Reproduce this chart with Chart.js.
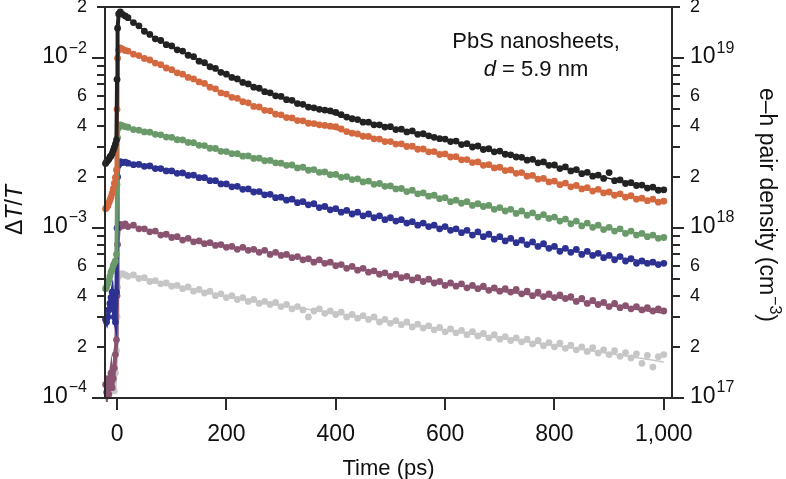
<!DOCTYPE html>
<html>
<head>
<meta charset="utf-8">
<script src="https://cdn.jsdelivr.net/npm/chart.js@4.4.1/dist/chart.umd.min.js"></script>
<style>
  html, body { margin: 0; padding: 0; background: #fff; }
  canvas { display: block; }
</style>
</head>
<body>
<canvas id="chartDecay" width="786" height="479"></canvas>
<script>
// ΔT/T values are stored in units of 1e-4 (right axis: e-h density in units of 1e17 cm^-3, same scale)
const time = [
  -21, -19, -17, -15, -13, -11, -9, -7, -5, -3, -1,
  0, 1, 3,
  6, 10, 15,
  20, 30, 40, 50, 60, 70, 80, 90, 100, 110,
  120, 130, 140, 150, 160, 170, 180, 190, 200, 210,
  220, 230, 240, 250, 260, 270, 280, 290, 300, 310,
  320, 330, 340, 350, 360, 370, 380, 390, 400, 410,
  420, 430, 440, 450, 460, 470, 480, 490, 500, 510,
  520, 530, 540, 550, 560, 570, 580, 590, 600, 610,
  620, 630, 640, 650, 660, 670, 680, 690, 700, 710,
  720, 730, 740, 750, 760, 770, 780, 790, 800, 810,
  820, 830, 840, 850, 860, 870, 880, 890, 900, 910,
  920, 930, 940, 950, 960, 970, 980, 990, 1000
];

const blackData = [
  24, 24.6, 25, 25.4, 26.2, 26.6, 27.4, 28.6, 29.8, 31.2, 33,
  75, 150, 182,
  187, 181, 177,
  173, 162, 155, 144, 138, 130, 127, 120, 118, 112,
  110, 104, 102, 96, 94, 89, 87, 82.5, 80.5, 77,
  75.5, 72, 70.5, 67.5, 66.5, 63.5, 62.5, 60, 59.5, 57,
  56.5, 54, 53.5, 51.5, 51, 50, 49.5, 49, 48, 46.5,
  45, 44, 43.5, 42, 42, 40.5, 40.5, 39.3, 39.5, 38,
  38.2, 36.8, 37.3, 35.6, 35.9, 34.9, 34.2, 33.6, 33.4, 32.3,
  32.5, 31, 31.4, 30, 30.4, 29, 29.3, 28.1, 28.4, 27.2,
  27, 26.2, 26.1, 25.1, 25.4, 24.2, 24.5, 23.4, 23.5, 22.4,
  22.9, 21.7, 22.1, 20.9, 21.3, 20.2, 20.5, 19.6, 21.2, 19,
  19.2, 18.3, 18.5, 17.8, 17.9, 17.2, 17.4, 16.7, 16.8
];

const orangeData = [
  13, 13.2, 13.5, 14, 14.6, 15.2, 16, 17, 18.3, 19.8, 22,
  50, 100, 112,
  115, 113, 111,
  110, 105.5, 103.5, 99.5, 97.5, 93.5, 91.5, 87.5, 85.5, 82,
  80.5, 77, 75.5, 72.5, 71, 67.5, 66, 62.5, 61.5, 58.8,
  58, 55.4, 54.6, 52, 51.6, 49.3, 49, 46.8, 46.4, 44.7,
  44.5, 42.9, 42.8, 41.4, 41.2, 40.5, 40.2, 39.8, 39.5, 38.3,
  37, 36.2, 35.8, 34.7, 34.6, 33.5, 33.4, 32.3, 32.3, 31.2,
  31.3, 30.2, 30.3, 29.1, 29.2, 28.1, 28.2, 27.1, 27.3, 26.2,
  26.3, 25.2, 25.3, 24.3, 24.5, 23.4, 23.6, 22.6, 22.8, 21.8,
  22, 21, 21.2, 20.2, 20.4, 19.4, 19.6, 18.7, 18.9, 18,
  18.4, 17.5, 17.8, 17, 17.3, 16.5, 16.9, 16.1, 16.3, 15.6,
  15.9, 15.2, 15.5, 14.8, 15, 14.5, 14.8, 14.2, 14.4
];

const greenData = [
  4.4, 4.5, 4.7, 4.9, 5.2, 5.5, 5.7, 6.0, 6.2, 6.4, 7,
  18, 34, 39,
  40.5, 40, 39.5,
  39.2, 38, 37.7, 36.8, 36.7, 35.6, 35.4, 34.3, 34.2, 33.1,
  33, 31.9, 31.8, 30.7, 30.6, 29.5, 29.4, 28.3, 28.2, 27.4,
  27.4, 26.5, 26.6, 25.7, 25.8, 24.9, 25, 24.2, 24.1, 23.4,
  23.5, 22.6, 22.8, 21.9, 22.1, 21.3, 21.4, 20.6, 20.7, 19.9,
  20.1, 19.3, 19.5, 18.7, 18.9, 18.1, 18.3, 17.6, 17.7, 17,
  17.1, 16.4, 16.7, 15.9, 16.1, 15.4, 15.6, 14.9, 15.1, 14.3,
  14.6, 14, 14.3, 13.6, 13.9, 13.4, 13.6, 12.9, 13.2, 12.6,
  12.9, 12.2, 12.6, 11.9, 12.3, 11.6, 12, 11.4, 11.6, 11,
  11.3, 10.6, 11, 10.3, 10.7, 10.1, 10.4, 9.8, 10.1, 9.6,
  9.9, 9.3, 9.6, 9.1, 9.3, 8.9, 9.1, 8.7, 8.8
];

const blueData = [
  2.9, 2.8, 3.0, 3.3, 3.6, 3.9, 4.2, 3.5, 3.0, 2.8, 4.2,
  10, 20, 23.5,
  24.6, 24.3, 24.4,
  24.1, 23.6, 23.7, 23.1, 23.2, 22.4, 22.4, 21.7, 21.7, 21,
  21.1, 20.4, 20.5, 19.8, 19.8, 19, 19, 18.2, 18.2, 17.5,
  17.6, 16.9, 17, 16.3, 16.4, 15.7, 15.8, 15.1, 15.2, 14.6,
  14.8, 14.1, 14.3, 13.7, 13.9, 13.2, 13.4, 12.8, 13, 12.4,
  12.7, 12.1, 12.4, 11.8, 12.1, 11.5, 11.8, 11.2, 11.5, 11,
  11.2, 10.7, 10.9, 10.4, 10.7, 10.2, 10.4, 9.9, 10.2, 9.7,
  9.9, 9.4, 9.7, 9.1, 9.5, 8.9, 9.2, 8.6, 8.9, 8.4,
  8.7, 8.2, 8.5, 8.0, 8.3, 7.8, 8.1, 7.6, 7.8, 7.3,
  7.6, 7.2, 7.5, 7.0, 7.3, 6.9, 7.1, 6.7, 6.9, 6.5,
  6.8, 6.4, 6.6, 6.2, 6.4, 6.2, 6.3, 6.1, 6.2
];

const mauveData = [
  1.2, 1.08, 1.3, 1.05, 1.25, 1.4, 1.15, 1.3, 1.5, 1.8, 2.2,
  4, 8, 10,
  10.5, 10.3, 10.6,
  10.2, 10.4, 9.9, 9.9, 9.5, 9.6, 9.1, 9.2, 8.8, 8.9,
  8.5, 8.7, 8.3, 8.4, 8.1, 8.2, 7.9, 8.0, 7.7, 7.8,
  7.5, 7.7, 7.4, 7.5, 7.2, 7.4, 7.0, 7.2, 6.9, 7.0,
  6.7, 6.8, 6.5, 6.6, 6.3, 6.5, 6.2, 6.3, 6.0, 6.1,
  5.8, 5.95, 5.65, 5.8, 5.5, 5.6, 5.35, 5.45, 5.2, 5.35,
  5.1, 5.2, 4.95, 5.1, 4.85, 5.0, 4.75, 4.85, 4.6, 4.75,
  4.55, 4.7, 4.45, 4.6, 4.4, 4.55, 4.3, 4.45, 4.25, 4.4,
  4.2, 4.35, 4.1, 4.25, 4.0, 4.2, 3.95, 4.1, 3.9, 4.05,
  3.85, 3.95, 3.7, 3.85, 3.6, 3.75, 3.55, 3.65, 3.45, 3.6,
  3.4, 3.5, 3.35, 3.45, 3.3, 3.4, 3.25, 3.35, 3.25
];

const grayData = [
  null, null, null, null, null, null, null, null, 1.1, 1.4, 1.9,
  3, 4.5, 5.2,
  5.35, 5.4, 5.3,
  5.2, 5.3, 5.05, 5.1, 4.85, 4.9, 4.7, 4.75, 4.55, 4.6,
  4.4, 4.5, 4.25, 4.35, 4.15, 4.25, 4.0, 4.1, 3.9, 4.0,
  3.8, 3.9, 3.7, 3.8, 3.6, 3.7, 3.55, 3.65, 3.45, 3.55,
  3.35, 3.45, 3.3, 3.0, 3.25, 3.35, 3.15, 3.25, 3.1, 3.2,
  3.0, 3.1, 2.95, 3.05, 2.9, 3.0, 2.8, 2.9, 2.75, 2.85,
  2.7, 2.8, 2.62, 2.72, 2.58, 2.66, 2.52, 2.6, 2.45, 2.55,
  2.42, 2.5, 2.36, 2.46, 2.32, 2.4, 2.26, 2.36, 2.22, 2.3,
  2.18, 2.26, 2.14, 2.22, 2.08, 2.18, 2.03, 2.12, 2.0, 2.1,
  1.96, 2.05, 1.92, 2.0, 1.88, 1.98, 1.84, 1.92, 1.8, 1.9,
  1.76, 1.85, 1.72, 1.82, 1.6, 1.78, 1.52, 1.75, 1.8
];

// fitted decay curves
const fitTime = [6, 20, 40, 60, 100, 150, 200, 300, 400, 500, 600, 700, 800, 900, 1000];
const blackFit = [184, 172, 154, 137, 117, 97, 80, 59, 46.5, 39, 33, 27.8, 23, 19.6, 16.8];
const orangeFit = [114, 109.5, 103, 97, 85, 73, 61, 46, 38, 32, 27, 22.5, 18.6, 16.1, 14.3];
const greenFit = [40, 39, 37.5, 36.5, 34, 31, 28, 24, 20.5, 17.5, 14.8, 13, 11.4, 9.9, 8.8];
const blueFit = [24.4, 24, 23.5, 23, 21.5, 20, 18, 15, 12.8, 11.3, 10, 8.7, 7.6, 6.8, 6.2];
const mauveFit = [10.3, 10.3, 10, 9.6, 8.9, 8.3, 7.8, 7.0, 6.1, 5.3, 4.7, 4.25, 3.9, 3.5, 3.15];
const grayFit = [5.3, 5.25, 5.1, 4.9, 4.6, 4.25, 3.95, 3.5, 3.15, 2.8, 2.5, 2.25, 2.03, 1.83, 1.63];

// axis ticks
const xTicks = [0, 200, 400, 600, 800, 1000];
const xTickLabels = ['0', '200', '400', '600', '800', '1,000'];
const yTicks = [1, 2, 3, 4, 5, 6, 7, 8, 9, 10, 20, 30, 40, 50, 60, 70, 80, 90, 100, 200];
const leftLabels = [[1, '10', '\u22124'], [2, '2'], [4, '4'], [6, '6'], [10, '10', '\u22123'],
  [20, '2'], [40, '4'], [60, '6'], [100, '10', '\u22122'], [200, '2']];
const rightLabels = [[1, '10', '17'], [2, '2'], [4, '4'], [6, '6'], [10, '10', '18'],
  [20, '2'], [40, '4'], [60, '6'], [100, '10', '19'], [200, '2']];

const FONT = '"Liberation Sans", Arial, Helvetica, sans-serif';
const AXIS = '#2a2a2a';

function points(xs, ys) {
    return xs.map((t, i) => ({ x: t, y: ys[i] }));
}

function dataSet(values, color) {
    return {
        data: points(time, values),
        showLine: true,
        borderColor: color,
        backgroundColor: color,
        borderWidth: 4,
        pointRadius: 3.4,
        pointBorderWidth: 0,
        clip: 4,
        // only the pre-zero part and the rising edge are joined
        segment: {
            borderColor: ctx => ctx.p1.parsed.x <= 6 ? color : 'rgba(0,0,0,0)'
        }
    };
}

function fitSet(values, color) {
    return {
        data: points(fitTime, values),
        showLine: true,
        borderColor: color,
        borderWidth: 1.5,
        pointRadius: 0,
        cubicInterpolationMode: 'monotone'
    };
}

function drawLabel(ctx, lab, px, py, align) {
    const base = lab[1], exp = lab[2];
    ctx.textBaseline = 'middle';
    if (!exp) {
        ctx.font = '18px ' + FONT;
        ctx.textAlign = align;
        ctx.fillText(base, px, py + 1);
        return;
    }
    ctx.font = '23px ' + FONT;
    const w1 = ctx.measureText(base).width;
    ctx.font = '16px ' + FONT;
    const w2 = ctx.measureText(exp).width;
    const x0 = align === 'right' ? px - w1 - w2 - 1 : px;
    ctx.textAlign = 'left';
    ctx.font = '23px ' + FONT;
    ctx.fillText(base, x0, py);
    ctx.font = '16px ' + FONT;
    ctx.fillText(exp, x0 + w1 + 1, py - 9);
}

// draws pieces [text, italic] one after another, centred on 0
function drawPieces(ctx, pieces, size, y) {
    let total = 0;
    const widths = pieces.map(p => {
        ctx.font = (p[1] ? 'italic ' : '') + size + 'px ' + FONT;
        const w = ctx.measureText(p[0]).width;
        total += w;
        return w;
    });
    let cx = -total / 2;
    ctx.textAlign = 'left';
    pieces.forEach((p, i) => {
        ctx.font = (p[1] ? 'italic ' : '') + size + 'px ' + FONT;
        ctx.fillText(p[0], cx, y);
        cx += widths[i];
    });
}

const boxAxes = {
    id: 'boxAxes',
    afterDatasetsDraw(chart) {
        const { ctx, chartArea: a, scales: { x, y } } = chart;
        ctx.save();
        ctx.strokeStyle = AXIS;
        ctx.fillStyle = '#111';
        ctx.lineWidth = 2;
        ctx.strokeRect(a.left, a.top, a.right - a.left, a.bottom - a.top);

        ctx.beginPath();
        yTicks.forEach(v => {
            const py = Math.round(y.getPixelForValue(v));
            const major = Number.isInteger(Math.log10(v));
            ctx.moveTo(a.left - (major ? 13 : 8), py);
            ctx.lineTo(a.left, py);
            ctx.moveTo(a.right, py);
            ctx.lineTo(a.right + (major ? 12 : 8), py);
        });
        xTicks.forEach(v => {
            const px = Math.round(x.getPixelForValue(v));
            ctx.moveTo(px, a.bottom);
            ctx.lineTo(px, a.bottom + 12);
        });
        ctx.stroke();

        leftLabels.forEach(l => drawLabel(ctx, l, a.left - 18, y.getPixelForValue(l[0]) - 1, 'right'));
        rightLabels.forEach(l => drawLabel(ctx, l, a.right + 18, y.getPixelForValue(l[0]) - 1, 'left'));

        ctx.font = '23px ' + FONT;
        ctx.textAlign = 'center';
        ctx.textBaseline = 'alphabetic';
        xTicks.forEach((v, i) => ctx.fillText(xTickLabels[i], x.getPixelForValue(v), a.bottom + 43));

        // axis titles
        ctx.save();
        ctx.translate((a.left + a.right) / 2, a.bottom + 77);
        drawPieces(ctx, [['Time (ps)', false]], 22, 0);
        ctx.restore();

        ctx.save();
        ctx.translate(16, 210);
        ctx.rotate(-Math.PI / 2);
        ctx.textBaseline = 'middle';
        drawPieces(ctx, [['\u0394', false], ['T', true], ['/', false], ['T', true]], 23, 0);
        ctx.restore();

        ctx.save();
        ctx.translate(766, 205);
        ctx.rotate(Math.PI / 2);
        ctx.textBaseline = 'middle';
        ctx.font = '23px ' + FONT;
        const t1 = 'e\u2013h pair density (cm';
        const w1 = ctx.measureText(t1).width;
        ctx.font = '16px ' + FONT;
        const w2 = ctx.measureText('\u22123').width;
        ctx.font = '23px ' + FONT;
        const w3 = ctx.measureText(')').width;
        let sx = -(w1 + w2 + w3 + 1) / 2;
        ctx.textAlign = 'left';
        ctx.fillText(t1, sx, 0);
        ctx.font = '16px ' + FONT;
        ctx.fillText('\u22123', sx + w1 + 1, -8);
        ctx.font = '23px ' + FONT;
        ctx.fillText(')', sx + w1 + w2 + 1, 0);
        ctx.restore();

        // annotation
        ctx.save();
        ctx.translate(536, 0);
        ctx.textBaseline = 'alphabetic';
        drawPieces(ctx, [['PbS nanosheets,', false]], 22, 48);
        drawPieces(ctx, [['d', true], [' = 5.9 nm', false]], 22, 76);
        ctx.restore();

        ctx.restore();
    }
};

document.addEventListener('DOMContentLoaded', function() {
    const canvas = document.getElementById('chartDecay');
    new Chart(canvas, {
        type: 'scatter',
        data: {
            datasets: [
                dataSet(blackData, '#222222'),
                dataSet(orangeData, '#d4683f'),
                dataSet(greenData, '#6a9a6a'),
                dataSet(blueData, '#2c3192'),
                dataSet(mauveData, '#8a5470'),
                dataSet(grayData, '#c6c6c6'),
                fitSet(blackFit, '#222222'),
                fitSet(orangeFit, '#d4683f'),
                fitSet(greenFit, '#6a9a6a'),
                fitSet(blueFit, '#2c3192'),
                fitSet(mauveFit, '#8a5470'),
                fitSet(grayFit, '#c6c6c6')
            ]
        },
        options: {
            responsive: false,
            animation: false,
            devicePixelRatio: 1,
            events: [],
            layout: { padding: { left: 105, right: 114, top: 7, bottom: 81 } },
            scales: {
                x: { type: 'linear', min: -22, max: 1015, display: false },
                y: { type: 'logarithmic', min: 1, max: 200, display: false }
            },
            plugins: {
                legend: { display: false },
                tooltip: { enabled: false }
            }
        },
        plugins: [boxAxes]
    });
});
</script>
</body>
</html>
